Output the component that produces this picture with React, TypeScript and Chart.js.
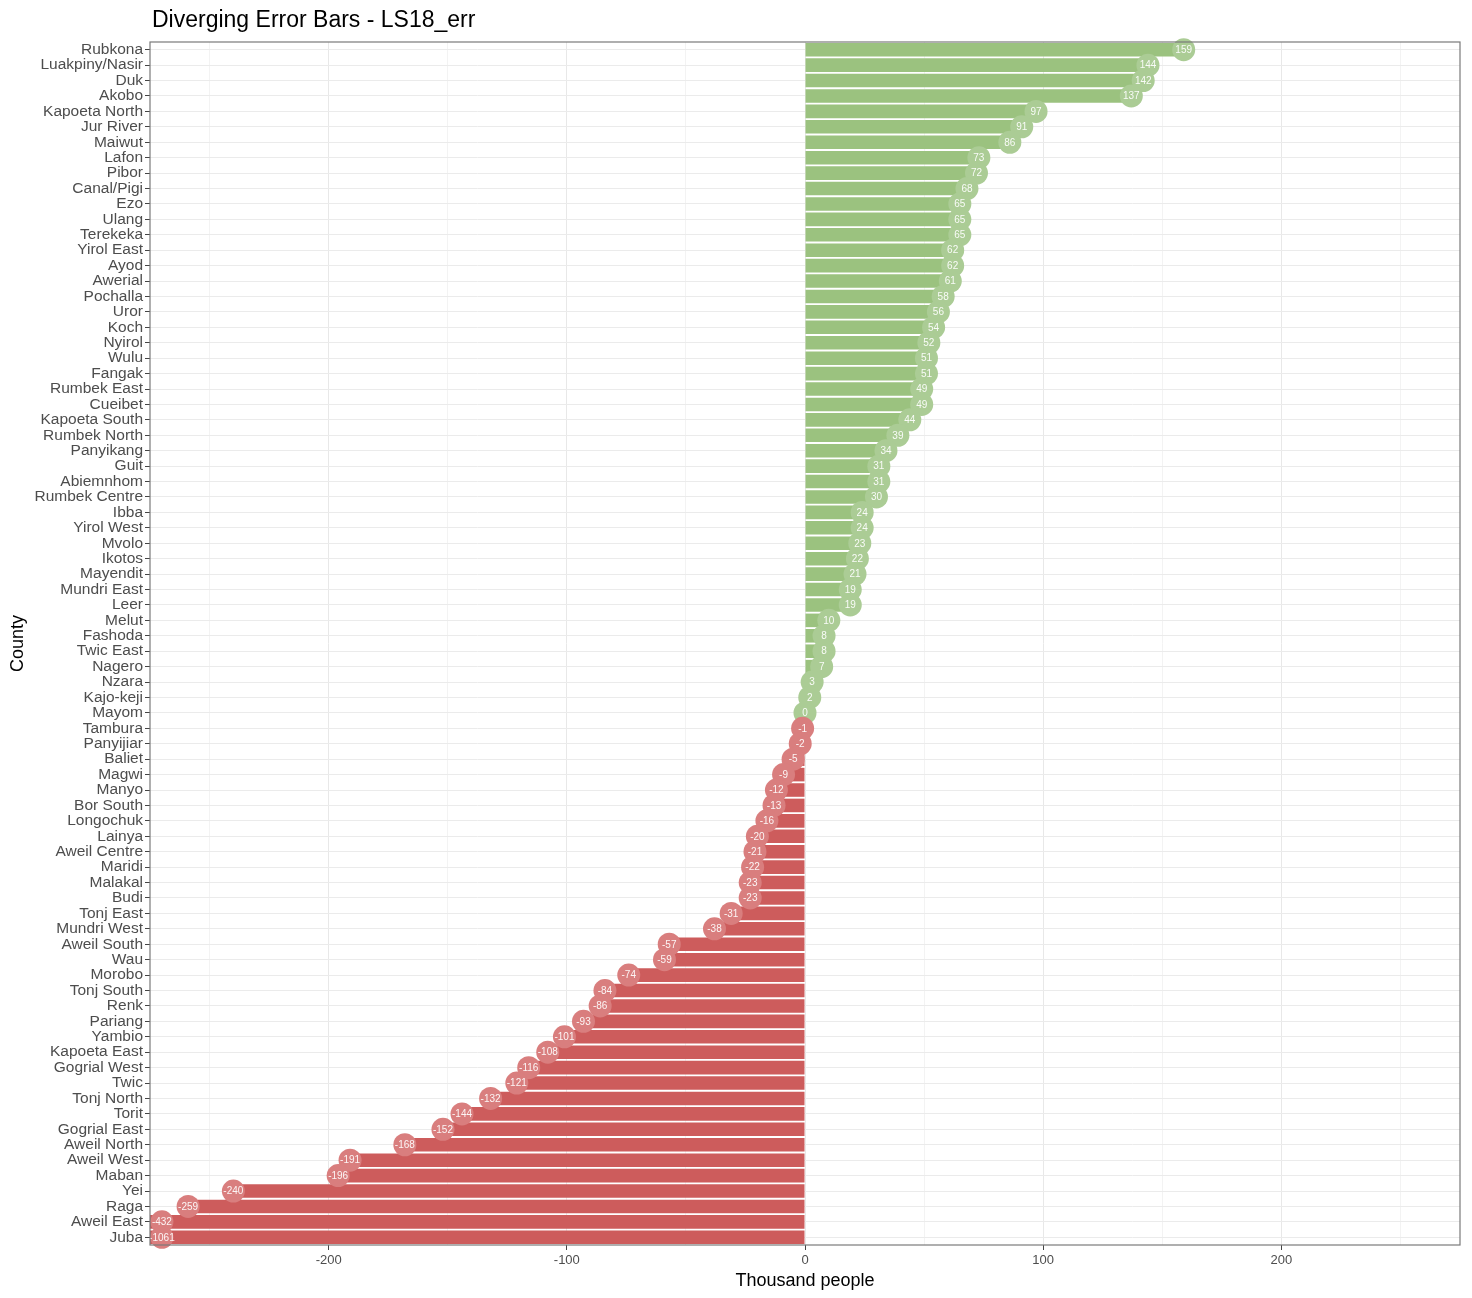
import { useEffect, useRef } from "react";
import { Chart, registerables } from "chart.js";

Chart.register(...registerables);

const counties = [
  "Rubkona", "Luakpiny/Nasir", "Duk", "Akobo", "Kapoeta North", "Jur River", "Maiwut", "Lafon",
  "Pibor", "Canal/Pigi", "Ezo", "Ulang", "Terekeka", "Yirol East", "Ayod", "Awerial", "Pochalla",
  "Uror", "Koch", "Nyirol", "Wulu", "Fangak", "Rumbek East", "Cueibet", "Kapoeta South",
  "Rumbek North", "Panyikang", "Guit", "Abiemnhom", "Rumbek Centre", "Ibba", "Yirol West", "Mvolo",
  "Ikotos", "Mayendit", "Mundri East", "Leer", "Melut", "Fashoda", "Twic East", "Nagero", "Nzara",
  "Kajo-keji", "Mayom", "Tambura", "Panyijiar", "Baliet", "Magwi", "Manyo", "Bor South",
  "Longochuk", "Lainya", "Aweil Centre", "Maridi", "Malakal", "Budi", "Tonj East", "Mundri West",
  "Aweil South", "Wau", "Morobo", "Tonj South", "Renk", "Pariang", "Yambio", "Kapoeta East",
  "Gogrial West", "Twic", "Tonj North", "Torit", "Gogrial East", "Aweil North", "Aweil West",
  "Maban", "Yei", "Raga", "Aweil East", "Juba",
];

const values = [
  159, 144, 142, 137, 97, 91, 86, 73,
  72, 68, 65, 65, 65, 62, 62, 61, 58,
  56, 54, 52, 51, 51, 49, 49, 44,
  39, 34, 31, 31, 30, 24, 24, 23,
  22, 21, 19, 19, 10, 8, 8, 7, 3,
  2, 0, -1, -2, -5, -9, -12, -13,
  -16, -20, -21, -22, -23, -23, -31, -38,
  -57, -59, -74, -84, -86, -93, -101, -108,
  -116, -121, -132, -144, -152, -168, -191,
  -196, -240, -259, -432, -1061,
];

const xGridTicks = [-250, -200, -150, -100, -50, 0, 50, 100, 150, 200, 250];
const xLabelTicks = [-200, -100, 0, 100, 200];

const X_MIN = -275;
const X_MAX = 275;
const POINT_MIN = -270;
const POINT_MAX = 270;

const GREEN_BAR = "#9bc27f";
const RED_BAR = "#cd5c5c";
const GREEN_DOT = "#abcc95";
const RED_DOT = "#d97e7e";

const FONT = "'Liberation Sans', Arial, Helvetica, sans-serif";

export default function App() {
  const ref = useRef<HTMLCanvasElement | null>(null);

  useEffect(() => {
    if (!ref.current) return;
    const pointValues = values.map((v) => Math.max(POINT_MIN, Math.min(POINT_MAX, v)));

    const titlePlugin = {
      id: "ggTitle",
      afterDraw(chart: any) {
        const ctx = chart.ctx;
        ctx.save();
        ctx.fillStyle = "#000";
        ctx.font = `23px ${FONT}`;
        ctx.textAlign = "left";
        ctx.textBaseline = "alphabetic";
        ctx.fillText("Diverging Error Bars - LS18_err", chart.chartArea.left + 2, 27);
        ctx.restore();
      },
    };

    const borderPlugin = {
      id: "panelBorder",
      afterDatasetsDraw(chart: any) {
        const { left, top, right, bottom } = chart.chartArea;
        const ctx = chart.ctx;
        ctx.save();
        const meta = chart.getDatasetMeta(0);
        ctx.fillStyle = "rgba(255,255,255,0.92)";
        ctx.font = `10px ${FONT}`;
        ctx.textAlign = "center";
        ctx.textBaseline = "middle";
        meta.data.forEach((el: any, i: number) => {
          ctx.fillText(String(values[i]), el.x, el.y + 0.5);
        });
        ctx.strokeStyle = "#7a7a7a";
        ctx.lineWidth = 1.2;
        ctx.strokeRect(left, top, right - left, bottom - top);
        ctx.restore();
      },
    };

    const chart = new Chart(ref.current, {
      type: "bar",
      data: {
        labels: counties,
        datasets: [
          {
            type: "line",
            data: pointValues,
            showLine: false,
            pointRadius: 11.5,
            pointHoverRadius: 11.5,
            pointBorderWidth: 0,
            pointBackgroundColor: values.map((v) => (v >= 0 ? GREEN_DOT : RED_DOT)),
            borderColor: "rgba(0,0,0,0)",
            order: 0,
          } as any,
          {
            type: "bar",
            data: values,
            backgroundColor: values.map((v) => (v >= 0 ? GREEN_BAR : RED_BAR)),
            barPercentage: 0.88,
            categoryPercentage: 1,
            order: 1,
          },
        ],
      },
      options: {
        indexAxis: "y",
        responsive: false,
        animation: false,
        devicePixelRatio: 1,
        layout: { padding: { top: 42, right: 12, left: 0, bottom: 0 } },
        plugins: {
          legend: { display: false },
          tooltip: { enabled: false },
          title: { display: false },
        },
        scales: {
          x: {
            type: "linear",
            min: X_MIN,
            max: X_MAX,
            afterBuildTicks(scale: any) {
              scale.ticks = xGridTicks.map((v) => ({ value: v }));
            },
            afterFit(scale: any) {
              scale.height = 53;
            },
            border: { display: false },
            grid: {
              color: (c: any) => (xLabelTicks.includes(c.tick?.value) ? "#e8e8e8" : "#f3f3f3"),
              lineWidth: 1,
              tickColor: (c: any) => (xLabelTicks.includes(c.tick?.value) ? "#444" : "rgba(0,0,0,0)"),
              tickLength: 5,
            },
            ticks: {
              autoSkip: false,
              maxRotation: 0,
              padding: 3,
              color: "#4d4d4d",
              font: { family: FONT, size: 13 },
              callback: (v: any) => (xLabelTicks.includes(Number(v)) ? String(v) : ""),
            },
            title: {
              display: true,
              text: "Thousand people",
              color: "#000",
              font: { family: FONT, size: 18 },
              padding: { top: 4, bottom: 6 },
            },
          },
          y: {
            type: "category",
            offset: true,
            afterFit(scale: any) {
              scale.width = 150;
            },
            border: { display: false },
            grid: {
              offset: false,
              color: "#ebebeb",
              lineWidth: 1,
              tickColor: "#444",
              tickLength: 5,
            },
            ticks: {
              autoSkip: false,
              padding: 2,
              color: "#4d4d4d",
              font: { family: FONT, size: 15.5 },
            },
            title: {
              display: true,
              text: "County",
              color: "#000",
              font: { family: FONT, size: 18 },
              padding: { top: 7, bottom: 4 },
            },
          },
        },
      } as any,
      plugins: [titlePlugin, borderPlugin],
    });

    return () => chart.destroy();
  }, []);

  return (
    <div style={{ position: "absolute", left: 0, top: 0, width: 1472, height: 1298, background: "#fff" }}>
      <canvas ref={ref} width={1472} height={1298} style={{ display: "block" }} />
    </div>
  );
}
